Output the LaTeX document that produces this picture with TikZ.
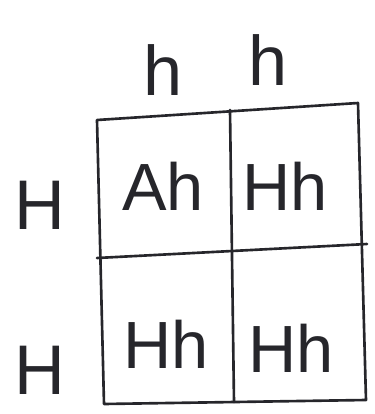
\documentclass[tikz,border=0pt]{standalone}
\usepackage{fontspec}
\setmainfont{Liberation Sans}
\definecolor{InkClr}{rgb}{0.15,0.15,0.17}

\begin{document}
\begin{tikzpicture}[x=0.02cm,y=-0.02cm,
  ink/.style={color=InkClr,line width=1.5pt,line cap=round,line join=round},
  allele/.style={text=InkClr,font=\fontsize{40}{44}\selectfont},
  geno/.style={text=InkClr,font=\fontsize{38}{42}\selectfont}]
\useasboundingbox (0,0) rectangle (375,414);

% square
\coordinate (tl) at (97,120);
\coordinate (tr) at (358,103);
\coordinate (br) at (366,400);
\coordinate (bl) at (104,404);
\draw[ink] (tl) -- (tr) -- (br) -- (bl) -- cycle;
\draw[ink] (97,258) -- (367,244);
\draw[ink] (230,110) -- (234,402);

% top alleles
\node[allele] (h1) at (163,70) {h};
\node[allele] (h2) at (268,60) {h};
% side alleles
\node[allele] (H1) at (40,205) {H};
\node[allele] (H2) at (40,370) {H};

% cells
\node[geno] (c11) at (163,186) {Ah};
\node[geno] (c12) at (285,186) {Hh};
\node[geno] (c21) at (166,344) {Hh};
\node[geno] (c22) at (291,348) {Hh};

\end{tikzpicture}
\end{document}
